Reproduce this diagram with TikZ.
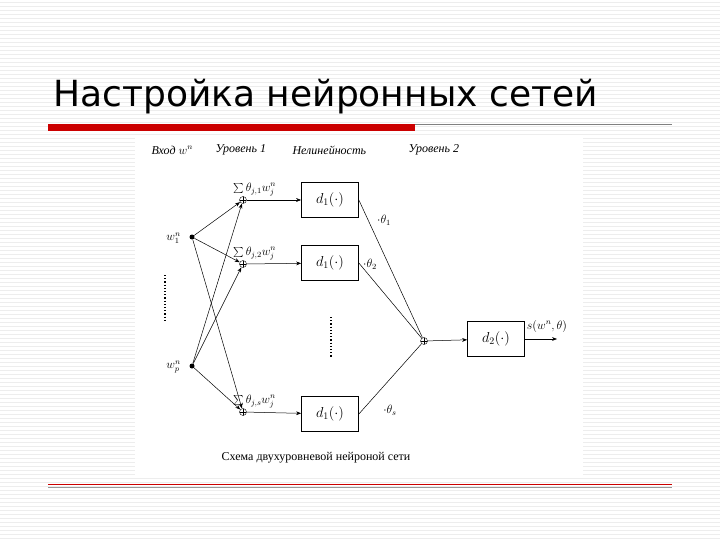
\documentclass[tikz,border=0pt]{standalone}
\usepackage{fontspec}
\setmainfont{Liberation Serif}
\newfontfamily\titlefont{DejaVu Sans}
\usetikzlibrary{arrows.meta}
\begin{document}
\begin{tikzpicture}[x=1pt,y=-1pt,
  fbox/.style={draw,line width=0.7pt,minimum width=57pt,minimum height=35pt,inner sep=0pt,font=\Large},
  sumn/.style={circle,draw,inner sep=0pt,minimum size=7pt,path picture={\draw (path picture bounding box.north)--(path picture bounding box.south) (path picture bounding box.west)--(path picture bounding box.east);}},
  dotn/.style={circle,fill,inner sep=0pt,minimum size=5pt},
  conn/.style={-{Stealth[length=5pt]},line width=0.5pt},
  lab/.style={font=\large,inner sep=1pt},
  hdr/.style={font=\itshape\large,anchor=west}]
\useasboundingbox (0,0) rectangle (720,540);
\fill[white] (0,0) rectangle (720,540);
\foreach \y in {2,6,...,538} \draw[black!7,line width=0.5pt] (0,\y)--(720,\y);
\node[font=\titlefont\fontsize{36}{40}\selectfont,anchor=west] (title) at (50,97) {Настройка нейронных сетей};
\fill[red!80!black] (48,124) rectangle (415,131);
\draw[black!50,line width=0.6pt] (415,124)--(672,124);
\draw[red!80!black,line width=0.6pt] (48,484)--(672,484);
\draw[black!40,line width=0.6pt] (48,487)--(672,487);
\fill[white] (135,137) rectangle (583,475);
% header
\node[hdr] (h1) at (148,150) {Вход $w^n$};
\node[hdr] (h2) at (212,150) {Уровень 1};
\node[hdr] (h3) at (289,150) {Нелинейность};
\node[hdr] (h4) at (405,150) {Уровень 2};
% inputs
\node[dotn] (w1) at (192,237) {};
\node[lab,anchor=east] (w1l) at (182,238) {$w_1^n$};
\node[dotn] (wp) at (192,366) {};
\node[lab,anchor=east] (wpl) at (182,367) {$w_p^n$};
\draw[dotted,line width=1.2pt] (165,275)--(165,320);
% sums
\node[sumn] (s1) at (243,200) {};
\node[sumn] (s2) at (243,264) {};
\node[sumn] (s3) at (243,412) {};
\node[lab,anchor=south west] (s1l) at (232,197) {$\sum\theta_{j,1}w_j^n$};
\node[lab,anchor=south west] (s2l) at (232,261) {$\sum\theta_{j,2}w_j^n$};
\node[lab,anchor=south west] (s3l) at (232,409) {$\sum\theta_{j,s}w_j^n$};
% boxes
\node[fbox] (b1) at (330,200) {$d_1(\cdot)$};
\node[fbox] (b2) at (330,263) {$d_1(\cdot)$};
\node[fbox] (b3) at (330,414) {$d_1(\cdot)$};
\draw[dotted,line width=1.2pt] (331,317)--(331,357);
\node[sumn] (so) at (424,341) {};
\node[fbox] (b4) at (496,339) {$d_2(\cdot)$};
\coordinate (out) at (557,339);
\node[lab] (outl) at (547,326) {$s(w^n,\theta)$};
% connections
\foreach \s in {s1,s2,s3}{
  \draw[conn] (w1) -- (\s);
  \draw[conn] (wp) -- (\s);
}
\draw[conn] (s1) -- (b1);
\draw[conn] (s2) -- (b2);
\draw[conn] (s3) -- (b3);
\draw[line width=0.5pt] (b1.east) -- (so);
\draw[line width=0.5pt] (b2.east) -- (so);
\draw[line width=0.5pt] (b3.east) -- (so);
\node[lab] (t1) at (384,220) {$\cdot\theta_1$};
\node[lab] (t2) at (370,264) {$\cdot\theta_2$};
\node[lab] (t3) at (390,410) {$\cdot\theta_s$};
\draw[conn] (so) -- (b4);
\draw[conn] (b4) -- (out);
\node[font=\large] (cap) at (316,458) {Схема двухуровневой нейроной сети};
\end{tikzpicture}
\end{document}
